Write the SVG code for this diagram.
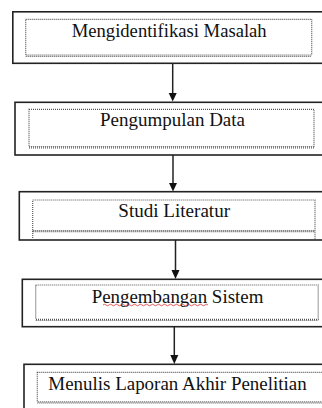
<svg xmlns="http://www.w3.org/2000/svg" width="322" height="408" viewBox="0 0 322 408">
<defs>
<style>
.outer{fill:#fff;stroke:#222;stroke-width:1.6}
.inner{fill:none;stroke:#555;stroke-width:1.2;stroke-dasharray:1 1}
.dbl{fill:none;stroke:#555;stroke-width:1.2;stroke-dasharray:1 1}
.lbl{font-family:'Liberation Serif','Times New Roman','DejaVu Serif',serif;font-size:18px;fill:#111;text-anchor:middle}
.con{stroke:#222;stroke-width:1.5;fill:none}
.head{fill:#111}
</style>
</defs>
<rect width="322" height="408" fill="#fff"/>
<g id="node1">
<rect class="outer" x="12.8" y="11.8" width="320" height="51.5"/>
<rect class="inner" x="25.7" y="19.3" width="286" height="35.7"/>
<line class="dbl" x1="25.7" y1="56.3" x2="311.7" y2="56.3"/>
<text class="lbl" font-family="Liberation Serif, serif" x="169.2" y="36.8" textLength="195" lengthAdjust="spacingAndGlyphs">Mengidentifikasi Masalah</text>
</g>
<g id="node2">
<rect class="outer" x="15" y="102.3" width="320" height="52.7"/>
<rect class="inner" x="29" y="109.3" width="285" height="37.2"/>
<line class="dbl" x1="29" y1="147.8" x2="314" y2="147.8"/>
<text class="lbl" font-family="Liberation Serif, serif" x="172.5" y="126.3" textLength="145" lengthAdjust="spacingAndGlyphs">Pengumpulan Data</text>
</g>
<g id="node3">
<rect class="outer" x="19.3" y="191.7" width="320" height="48.3"/>
<path class="inner" d="M32.7 240 V200 H315 V240"/>
<line class="dbl" x1="32.7" y1="230.5" x2="315" y2="230.5"/>
<line class="dbl" x1="32.7" y1="231.7" x2="315" y2="231.7"/>
<text class="lbl" font-family="Liberation Serif, serif" x="174.2" y="216.7" textLength="111.7" lengthAdjust="spacingAndGlyphs">Studi Literatur</text>
</g>
<g id="node4">
<rect class="outer" x="22.3" y="279.3" width="320" height="47.4"/>
<rect class="inner" x="35.7" y="285" width="282.5" height="34.3"/>
<line class="dbl" x1="35.7" y1="320.5" x2="318.2" y2="320.5"/>
<text class="lbl" font-family="Liberation Serif, serif" x="177.5" y="302.7" textLength="171.7" lengthAdjust="spacingAndGlyphs">Pengembangan Sistem</text>
<path d="M103 305 q1.5 -1.5 3 0 t3 0 t3 0 t3 0 t3 0 t3 0 t3 0 t3 0 t3 0 t3 0 t3 0 t3 0 t3 0 t3 0 t3 0 t3 0 t3 0 t3 0 t3 0 t3 0 t3 0 t3 0 t3 0 t3 0 t3 0 t3 0 t3 0 t3 0 t3 0 t3 0 t3 0 t3 0 t3 0 t3 0 t3 0" fill="none" stroke="#e03030" stroke-width="0.8"/>
</g>
<g id="node5">
<rect class="outer" x="24" y="364.3" width="320" height="60"/>
<rect class="inner" x="37.3" y="372.3" width="290" height="29.5"/>
<line class="dbl" x1="37.3" y1="403" x2="327" y2="403"/>
<text class="lbl" font-family="Liberation Serif, serif" x="177.5" y="390" textLength="258.4" lengthAdjust="spacingAndGlyphs">Menulis Laporan Akhir Penelitian</text>
</g>
<g id="connectors">
<line class="con" x1="172.7" y1="63.3" x2="172.7" y2="94"/>
<path class="head" d="M168.7 93 H176.7 L172.7 101.5 Z"/>
<line class="con" x1="173" y1="155" x2="173" y2="184"/>
<path class="head" d="M169 183 H177 L173 191.5 Z"/>
<line class="con" x1="175.5" y1="240" x2="175.5" y2="271"/>
<path class="head" d="M171.5 270 H179.5 L175.5 279 Z"/>
<line class="con" x1="174.3" y1="326.7" x2="174.3" y2="356"/>
<path class="head" d="M170.3 355 H178.3 L174.3 364 Z"/>
</g>
</svg>
